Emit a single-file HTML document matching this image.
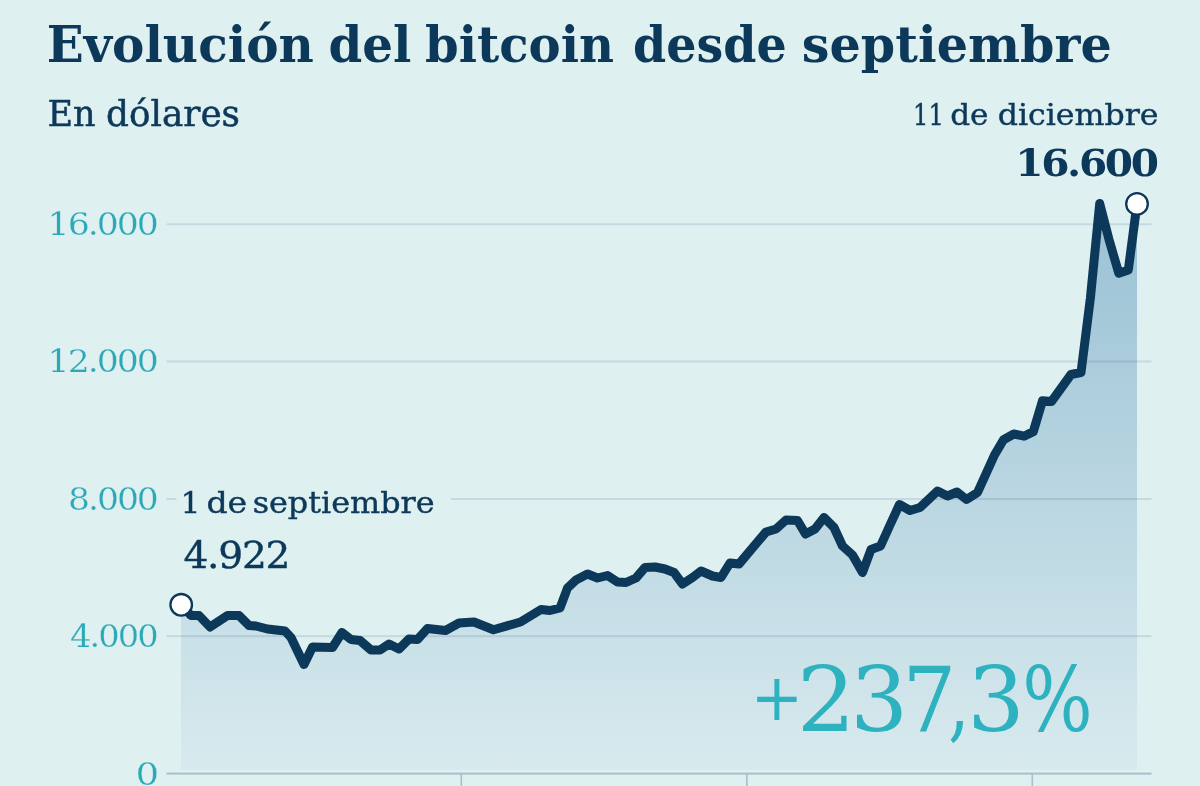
<!DOCTYPE html>
<html lang="es">
<head>
<meta charset="utf-8">
<title>Evolución del bitcoin desde septiembre</title>
<style>
html,body{margin:0;padding:0;background:#dff0f1;}
body{width:1200px;height:786px;overflow:hidden;}
svg{display:block;}
</style>
</head>
<body>
<svg width="1200" height="786" viewBox="0 0 1200 786">
<defs>
<linearGradient id="ag" gradientUnits="userSpaceOnUse" x1="0" y1="204" x2="0" y2="770">
<stop offset="0" stop-color="#99c1d4"/>
<stop offset="1" stop-color="#d8eaee"/>
</linearGradient>
</defs>
<rect width="1200" height="786" fill="#dff0f1"/>
<!-- area -->
<path d="M181,604.5 L191,615.5 L199,615.5 L210,627 L227.5,615.5 L239,615.5 L249,625.5 L256,626 L267.5,629 L285,631 L291,637.5 L304,664.5 L312.5,647 L332.5,647.5 L342,632.5 L351,639.5 L360,640.5 L371,650 L380,650 L389,644 L399,649 L409,639 L417.5,639.5 L427.5,628.5 L445.5,630.5 L459,623 L474,622 L493.5,629.8 L520.5,622 L541,609.5 L550,610.5 L560,608 L567.5,588 L576,580 L587.5,574 L597.5,578 L607.5,575.5 L617.5,582 L626,582.5 L636,578 L645,567.5 L655,567 L665,569 L674,572.5 L682.5,584 L692.5,577.5 L701,571 L712.5,576 L721,577.5 L730,563 L739,564 L766,532 L776,529 L786,520 L797.5,520.5 L805.5,534 L815,529 L824,517.5 L834,527.5 L842.5,546 L852.5,555 L862.5,572.5 L871,549.5 L880.5,546 L890,525 L899.5,504.5 L910,510.5 L920,507.5 L937.5,491 L947.5,496 L957,492 L966.5,499.5 L977.5,492.5 L994.5,455 L1003.5,439.7 L1013.8,434 L1024,436.2 L1033.3,431.6 L1042.5,400.7 L1051.6,401.4 L1071,374.5 L1081,372.5 L1090.4,298 L1099.7,203.6 L1108.9,239.2 L1118.8,273.3 L1128.3,270 L1137,203.8 L1137,770 L181,770 Z" fill="url(#ag)"/>
<!-- gridlines -->
<rect x="166.5" y="223.3" width="985" height="2" fill="rgb(226,232,237)" style="mix-blend-mode:multiply"/>
<rect x="166.5" y="360.5" width="985" height="2" fill="rgb(226,232,237)" style="mix-blend-mode:multiply"/>
<rect x="166.5" y="498" width="985" height="2" fill="rgb(226,232,237)" style="mix-blend-mode:multiply"/>
<rect x="166.5" y="635.2" width="985" height="2" fill="rgb(226,232,237)" style="mix-blend-mode:multiply"/>
<!-- baseline + ticks -->
<rect x="166.5" y="772.6" width="985" height="2" fill="#a6c1cc"/>
<rect x="460.5" y="774" width="1.6" height="12" fill="#a6c1cc"/>
<rect x="746" y="774" width="1.6" height="12" fill="#a6c1cc"/>
<rect x="1031.5" y="774" width="1.6" height="12" fill="#a6c1cc"/>
<!-- label bg -->
<rect x="176.5" y="484" width="274.5" height="34" fill="#dff0f1"/>
<!-- line -->
<path d="M181,604.5 L191,615.5 L199,615.5 L210,627 L227.5,615.5 L239,615.5 L249,625.5 L256,626 L267.5,629 L285,631 L291,637.5 L304,664.5 L312.5,647 L332.5,647.5 L342,632.5 L351,639.5 L360,640.5 L371,650 L380,650 L389,644 L399,649 L409,639 L417.5,639.5 L427.5,628.5 L445.5,630.5 L459,623 L474,622 L493.5,629.8 L520.5,622 L541,609.5 L550,610.5 L560,608 L567.5,588 L576,580 L587.5,574 L597.5,578 L607.5,575.5 L617.5,582 L626,582.5 L636,578 L645,567.5 L655,567 L665,569 L674,572.5 L682.5,584 L692.5,577.5 L701,571 L712.5,576 L721,577.5 L730,563 L739,564 L766,532 L776,529 L786,520 L797.5,520.5 L805.5,534 L815,529 L824,517.5 L834,527.5 L842.5,546 L852.5,555 L862.5,572.5 L871,549.5 L880.5,546 L890,525 L899.5,504.5 L910,510.5 L920,507.5 L937.5,491 L947.5,496 L957,492 L966.5,499.5 L977.5,492.5 L994.5,455 L1003.5,439.7 L1013.8,434 L1024,436.2 L1033.3,431.6 L1042.5,400.7 L1051.6,401.4 L1071,374.5 L1081,372.5 L1090.4,298 L1099.7,203.6 L1108.9,239.2 L1118.8,273.3 L1128.3,270 L1137,203.8" fill="none" stroke="#0c385a" stroke-width="9" stroke-linejoin="round" stroke-linecap="round"/>
<circle cx="181.2" cy="604.8" r="10.8" fill="#ffffff" stroke="#0c385a" stroke-width="2.3"/>
<circle cx="1137" cy="203.9" r="10.8" fill="#ffffff" stroke="#0c385a" stroke-width="2.3"/>
<!-- texts -->
<text y="62" font-family='"DejaVu Serif","Liberation Serif",serif' font-size="50" font-weight="bold" fill="#0c385a"><tspan x="46.81" textLength="267.03" lengthAdjust="spacingAndGlyphs">Evolución</tspan> <tspan x="328.57" textLength="82.89" lengthAdjust="spacingAndGlyphs">del</tspan> <tspan x="425.04" textLength="189.05" lengthAdjust="spacingAndGlyphs">bitcoin</tspan> <tspan x="633.10" textLength="153.62" lengthAdjust="spacingAndGlyphs">desde</tspan> <tspan x="801.78" textLength="310.00" lengthAdjust="spacingAndGlyphs">septiembre</tspan></text>
<text y="125.6" font-family='"DejaVu Serif","Liberation Serif",serif' font-size="35" fill="#0c385a" stroke="#0c385a" stroke-width="0.5"><tspan x="47.40" textLength="48.14" lengthAdjust="spacingAndGlyphs">En</tspan> <tspan x="105.98" textLength="134.01" lengthAdjust="spacingAndGlyphs">dólares</tspan></text>
<text y="125.4" font-family='"DejaVu Serif","Liberation Serif",serif' font-size="30.4" fill="#0c385a" stroke="#0c385a" stroke-width="0.4"><tspan x="913.11" textLength="30.80" lengthAdjust="spacingAndGlyphs">11</tspan> <tspan x="950.23" textLength="38.28" lengthAdjust="spacingAndGlyphs">de</tspan> <tspan x="997.71" textLength="160.81" lengthAdjust="spacingAndGlyphs">diciembre</tspan></text>
<text y="175.8" font-family='"DejaVu Serif","Liberation Serif",serif' font-size="38" font-weight="bold" fill="#0c385a" letter-spacing="-2.2"><tspan x="1015.22" textLength="141.47" lengthAdjust="spacingAndGlyphs">16.600</tspan></text>
<text y="513" font-family='"DejaVu Serif","Liberation Serif",serif' font-size="30.2" fill="#0c385a" stroke="#0c385a" stroke-width="0.4"><tspan x="180.62" textLength="20.01" lengthAdjust="spacingAndGlyphs">1</tspan> <tspan x="206.40" textLength="40.80" lengthAdjust="spacingAndGlyphs">de</tspan> <tspan x="252.70" textLength="181.97" lengthAdjust="spacingAndGlyphs">septiembre</tspan></text>
<text y="568" font-family='"DejaVu Serif","Liberation Serif",serif' font-size="37.6" fill="#0c385a" letter-spacing="-1.2" stroke="#0c385a" stroke-width="0.4"><tspan x="183.46" textLength="105.82" lengthAdjust="spacingAndGlyphs">4.922</tspan></text>
<text y="235" font-family='"DejaVu Serif","Liberation Serif",serif' font-size="31.4" fill="#2ba9b7" letter-spacing="-1.8" stroke="#dff0f1" stroke-width="0.25"><tspan x="47.59" textLength="109.30" lengthAdjust="spacingAndGlyphs">16.000</tspan></text>
<text y="372.2" font-family='"DejaVu Serif","Liberation Serif",serif' font-size="31.4" fill="#2ba9b7" letter-spacing="-1.8" stroke="#dff0f1" stroke-width="0.25"><tspan x="47.59" textLength="109.30" lengthAdjust="spacingAndGlyphs">12.000</tspan></text>
<text y="509.5" font-family='"DejaVu Serif","Liberation Serif",serif' font-size="31.4" fill="#2ba9b7" letter-spacing="-1.8" stroke="#dff0f1" stroke-width="0.25"><tspan x="67.90" textLength="88.99" lengthAdjust="spacingAndGlyphs">8.000</tspan></text>
<text y="647" font-family='"DejaVu Serif","Liberation Serif",serif' font-size="31.4" fill="#2ba9b7" letter-spacing="-1.8" stroke="#dff0f1" stroke-width="0.25"><tspan x="70.10" textLength="86.78" lengthAdjust="spacingAndGlyphs">4.000</tspan></text>
<text y="784.6" font-family='"DejaVu Serif","Liberation Serif",serif' font-size="31.4" fill="#2ba9b7" letter-spacing="-1.8" stroke="#dff0f1" stroke-width="0.25"><tspan x="135.62" textLength="21.58" lengthAdjust="spacingAndGlyphs">0</tspan></text>
<text y="731.4" font-family='"DejaVu Serif","Liberation Serif",serif' font-size="90.6" fill="#2eb2bf"><tspan x="750.52" font-size="66" y="719.7" textLength="52.80" lengthAdjust="spacingAndGlyphs">+</tspan><tspan x="796.87" y="731.4" textLength="58.84" lengthAdjust="spacingAndGlyphs">2</tspan><tspan x="850.13" textLength="58.28" lengthAdjust="spacingAndGlyphs">3</tspan><tspan x="902.57" textLength="53.80" lengthAdjust="spacingAndGlyphs">7</tspan><tspan x="948.17" textLength="21.44" lengthAdjust="spacingAndGlyphs">,</tspan><tspan x="967.31" textLength="57.51" lengthAdjust="spacingAndGlyphs">3</tspan><tspan x="1022.31" textLength="70.43" lengthAdjust="spacingAndGlyphs">%</tspan></text>
</svg>
</body>
</html>
